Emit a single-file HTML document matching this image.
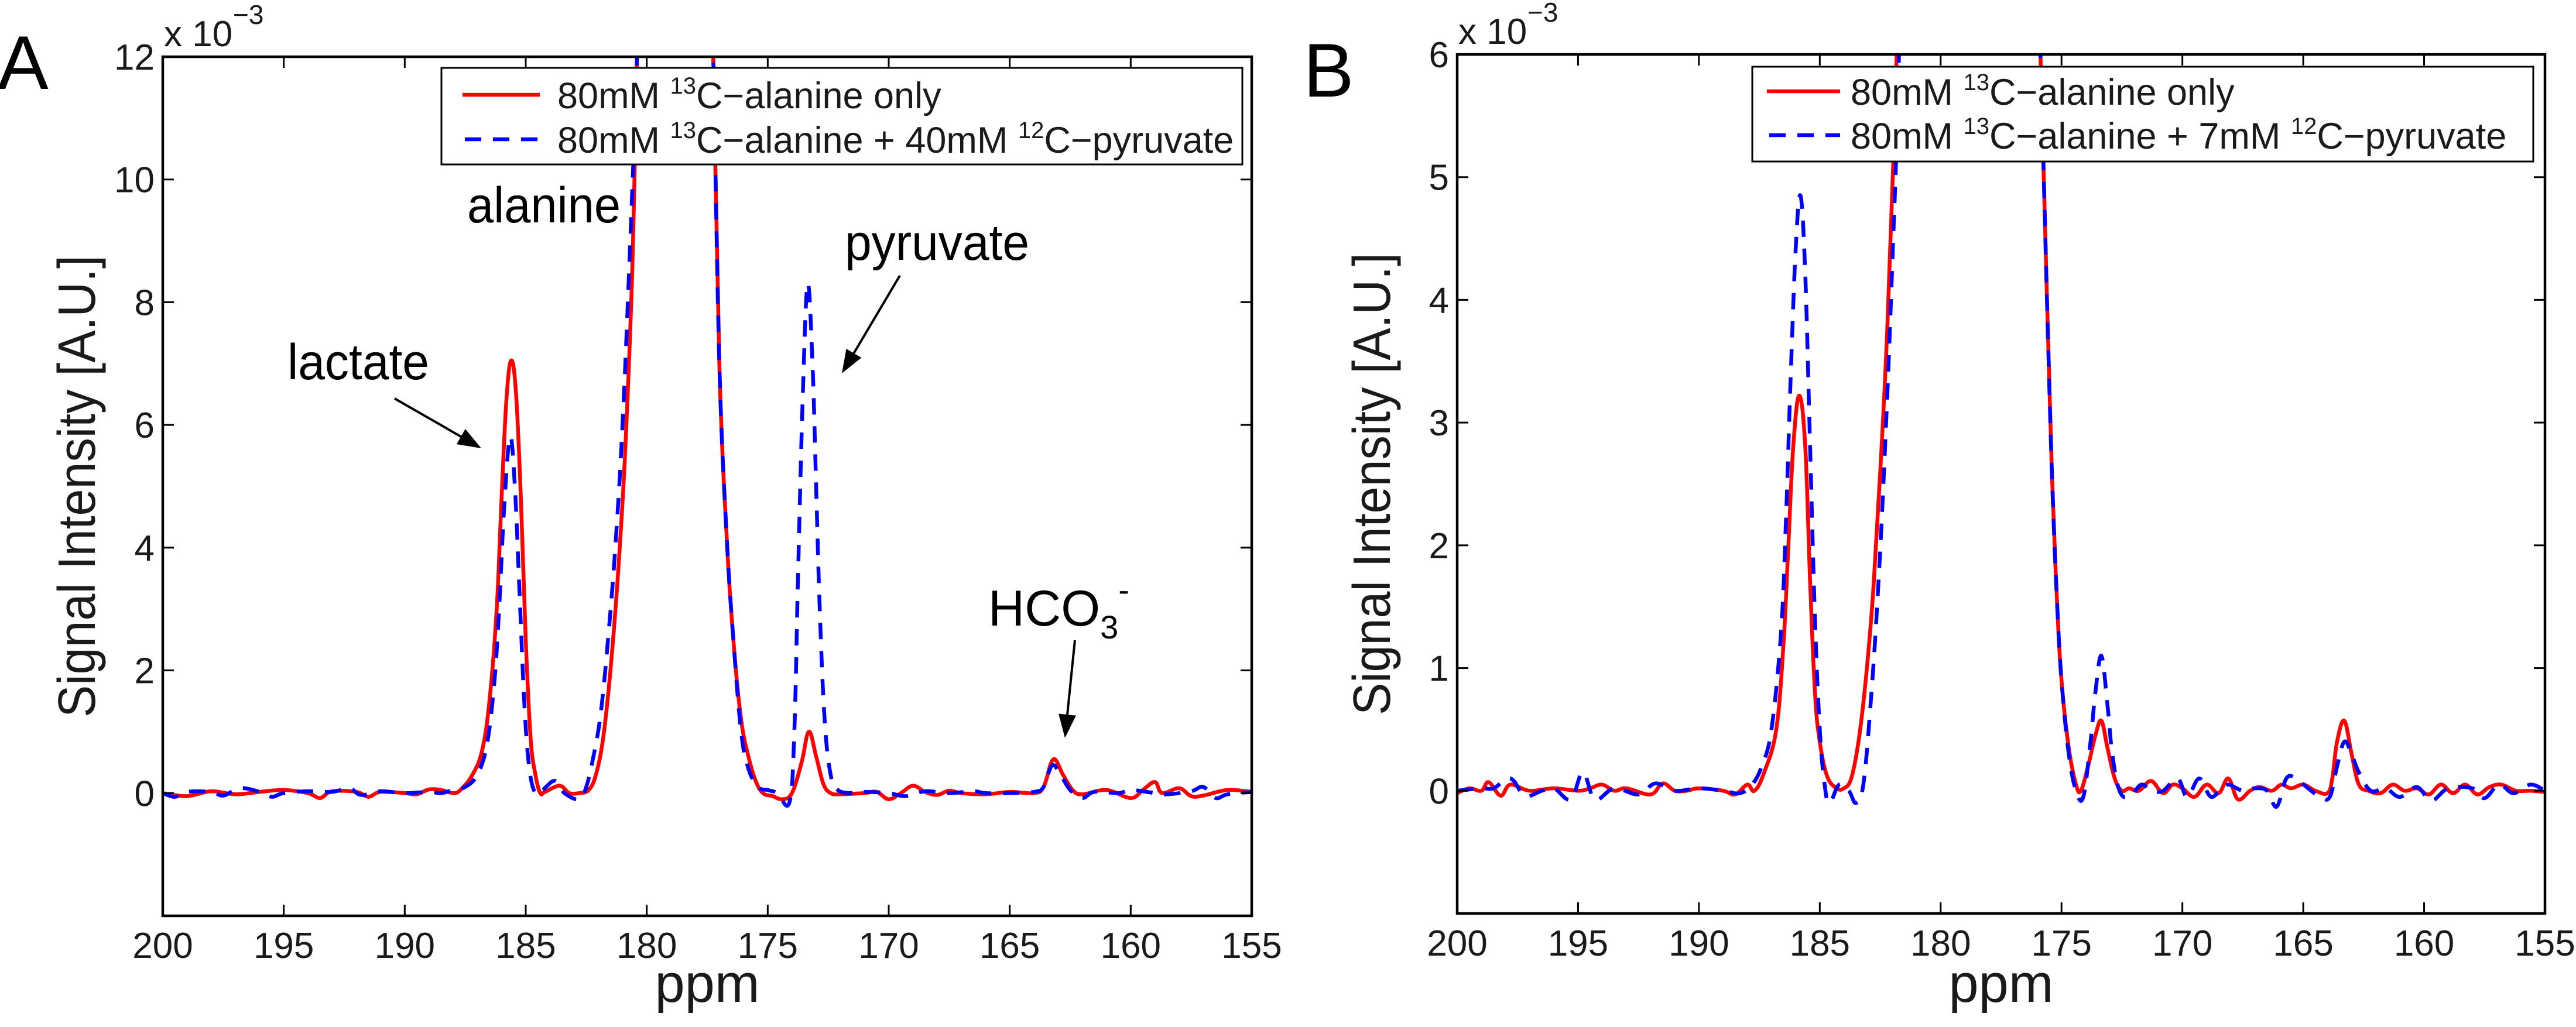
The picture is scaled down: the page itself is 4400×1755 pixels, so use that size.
<!DOCTYPE html>
<html><head><meta charset="utf-8"><style>
html,body{margin:0;padding:0;background:#fff;}
svg{display:block;font-family:"Liberation Sans",Arial,sans-serif;}
</style></head><body>
<svg id="fig" width="4400" height="1755" viewBox="0 0 4400 1755" xmlns="http://www.w3.org/2000/svg"></svg>
<script>
// ---- Panel A data (ppm, signal x1e-3) ----
const aRed = [[200,0.0],[199,-0.05],[198,0.03],[197,-0.02],[196,0.02],[195,0.05],[194,0.0],[193.5,-0.08],[193,0.03],[192,0.02],[191.5,-0.06],[191,0.02],[190,0.0],[189.5,-0.02],[189,0.06],[188.5,0.05],[188,0.0],[187.7,0.05],[187.2,0.3],[186.8,0.7],[186.5,1.5],[186.2,3.0],[186.0,4.8],[185.8,6.4],[185.6,7.05],[185.4,6.5],[185.2,4.8],[185.0,2.5],[184.8,0.9],[184.6,0.3],[184.4,0.0],[184.2,0.02],[183.6,0.12],[183.2,0.0],[182.8,0.0],[182.4,0.05],[182.1,0.3],[181.8,0.9],[181.5,2.0],[181.2,3.5],[180.9,5.5],[180.6,8.5],[180.4,12],[180.1,16],[179.5,24],[178,24],[177.5,16],[177.25,12],[177.0,7],[176.7,4.2],[176.4,2.4],[176.1,1.2],[175.8,0.6],[175.5,0.2],[175.2,0.0],[174.8,-0.05],[174.4,-0.1],[174.0,0.0],[173.6,0.5],[173.3,1.0],[173.0,0.6],[172.7,0.15],[172.4,0.0],[172,-0.02],[171,0.0],[170.5,0.02],[170,-0.1],[169.5,0.0],[169,0.12],[168.5,0.02],[168,-0.03],[167.5,0.04],[167,0.0],[166,-0.02],[165,0.02],[164,0.0],[163.6,0.1],[163.2,0.55],[162.8,0.3],[162.4,0.05],[162,-0.02],[161,0.05],[160,-0.08],[159.5,0.05],[159.0,0.18],[158.7,0.0],[158.0,0.08],[157.5,-0.05],[157,-0.04],[156,0.05],[155,0.02]];
const aBlue = [[200,0],[199.5,-0.06],[199,0.02],[198,0.02],[197.5,-0.04],[196.8,0.08],[196,0.02],[195.5,-0.06],[195,0.0],[194,0.03],[193,0.02],[192.3,0.08],[191.8,-0.03],[191,0.03],[190,0.0],[189,0.02],[188.5,0.0],[188,0.05],[187.5,0.1],[187.0,0.3],[186.6,0.8],[186.3,1.8],[186.1,3.0],[185.9,4.6],[185.65,5.8],[185.45,5.0],[185.25,3.2],[185.05,1.4],[184.85,0.4],[184.6,0.0],[184.3,0.05],[183.8,0.2],[183.4,0.0],[182.8,-0.1],[182.5,0.1],[182.2,0.6],[181.9,1.3],[181.6,2.5],[181.3,4.0],[181,6.0],[180.7,8.8],[180.4,12],[180.1,16],[179.5,24],[178,24],[177.5,16],[177.25,12],[177.0,7],[176.7,4.2],[176.4,2.4],[176.1,1.0],[175.8,0.4],[175.4,0.1],[175.0,0.05],[174.6,0.0],[174.1,-0.15],[173.9,1.0],[173.75,3.5],[173.55,6.5],[173.35,8.3],[173.15,7.0],[173.0,5.0],[172.85,3.0],[172.65,1.2],[172.4,0.3],[172.1,0.05],[171.5,0.0],[171,0.02],[170,0.0],[169.3,-0.05],[168.5,0.03],[167.5,0.0],[166.5,0.03],[166,0.0],[165,0.0],[164,0.02],[163.6,0.1],[163.25,0.45],[162.9,0.3],[162.5,0.05],[162,-0.08],[161.5,0.02],[160.5,0.0],[160,0.05],[159,0.0],[158.5,-0.02],[157.5,0.03],[157,0.1],[156.5,-0.08],[156,-0.02],[155,0.02]];
// ---- Panel B data ----
const bRed = [[200,-0.02],[199.5,0.02],[199,0.0],[198.7,0.07],[198.2,-0.04],[197.8,0.05],[197,0.0],[196,0.02],[195,0.0],[194.5,0.02],[194,0.05],[193.5,0.0],[193,0.02],[192,-0.03],[191.5,0.06],[191,0.0],[190.5,0.0],[190,0.02],[189,0.0],[188.5,-0.03],[188,0.05],[187.7,0.0],[187.3,0.15],[186.8,0.5],[186.5,1.2],[186.3,2.0],[186.1,2.8],[185.85,3.22],[185.6,2.8],[185.4,1.7],[185.2,0.8],[185.0,0.4],[184.7,0.12],[184.3,0.02],[184.0,0.02],[183.7,0.1],[183.4,0.4],[183.1,0.9],[182.8,1.6],[182.5,2.6],[182.2,3.8],[181.9,5.5],[181.7,7],[181.2,12],[180,14],[177,14],[176.3,10],[176.0,7],[175.8,5.5],[175.6,4.0],[175.4,2.6],[175.2,1.6],[175.0,0.9],[174.7,0.35],[174.4,0.05],[174.2,0.0],[173.9,0.2],[173.6,0.45],[173.35,0.57],[173.1,0.35],[172.8,0.1],[172.5,0.0],[172.2,0.02],[171.8,0.0],[171.3,0.08],[170.8,-0.02],[170.4,0.05],[170,0.02],[169.5,-0.05],[169,0.05],[168.5,-0.02],[168.1,0.1],[167.7,-0.07],[167.2,0.0],[166.8,0.03],[166.3,0.0],[165.9,0.05],[165.5,0.02],[165,0.05],[164.5,0.0],[164.0,-0.02],[163.8,0.1],[163.6,0.4],[163.3,0.57],[163.0,0.3],[162.7,0.05],[162.3,0.0],[161.8,-0.02],[161.3,0.05],[160.8,0.0],[160.3,0.02],[159.8,-0.03],[159.3,0.05],[158.8,-0.02],[158.3,0.05],[157.8,-0.03],[157.3,0.03],[156.8,0.05],[156.2,0.0],[155.6,0.0],[155,-0.01]];
const bBlue = [[200,0],[199,0.02],[198.5,0.02],[197.8,0.1],[197.2,-0.04],[196.5,0.0],[196,0.02],[195.3,-0.07],[194.8,0.15],[194.3,-0.07],[193.5,0.02],[192.5,-0.03],[191.8,0.06],[191,0.0],[190,0.02],[189,0.0],[188.3,-0.02],[187.8,0.05],[187.4,0.2],[187.0,0.5],[186.6,1.3],[186.4,2.2],[186.2,3.4],[186.0,4.4],[185.8,4.85],[185.6,4.2],[185.4,2.8],[185.2,1.4],[185.0,0.5],[184.8,0.05],[184.6,-0.1],[184.2,0.05],[183.8,0.0],[183.5,-0.1],[183.2,0.05],[182.9,0.7],[182.6,1.6],[182.3,2.8],[182.0,4.3],[181.7,6.2],[181.2,11],[180,14],[177,14],[176.3,10],[176.0,7],[175.8,5.5],[175.6,4.0],[175.4,2.6],[175.2,1.6],[175.0,0.9],[174.7,0.3],[174.4,0.0],[174.1,-0.05],[173.8,0.4],[173.6,0.8],[173.35,1.1],[173.1,0.7],[172.9,0.3],[172.6,0.0],[172.2,-0.05],[171.7,0.05],[171.3,0.0],[170.8,0.0],[170.2,0.1],[169.8,-0.05],[169.3,0.1],[168.8,-0.05],[168.2,0.05],[167.5,0.0],[167,0.02],[166.5,0.0],[166.1,-0.13],[165.7,0.1],[165.3,0.1],[164.8,0.02],[164.3,-0.05],[163.9,-0.05],[163.6,0.2],[163.3,0.4],[163.0,0.3],[162.7,0.15],[162.2,0.0],[161.6,0.02],[161,-0.05],[160.3,0.03],[159.7,-0.08],[159,0.02],[158,0.02],[157.5,-0.06],[156.9,0.05],[156.3,-0.02],[155.6,0.05],[155,0.0]];
const xTicks = [200,195,190,185,180,175,170,165,160,155];
const aYTicks = [-2,0,2,4,6,8,10,12];
const aYLabels = ["","0","2","4","6","8","10","12"];
const bYTicks = [-1,0,1,2,3,4,5,6];
const bYLabels = ["","0","1","2","3","4","5","6"];

const NS="http://www.w3.org/2000/svg";
const svg=document.getElementById('fig');
function mk(tag,attrs,parent){const e=document.createElementNS(NS,tag);for(const k in attrs)e.setAttribute(k,attrs[k]);(parent||svg).appendChild(e);return e;}

function smoothPath(pts){
  let d='M'+pts[0][0].toFixed(1)+','+pts[0][1].toFixed(1);
  for(let i=0;i<pts.length-1;i++){
    const p0=pts[Math.max(i-1,0)],p1=pts[i],p2=pts[i+1],p3=pts[Math.min(i+2,pts.length-1)];
    const t=0.18;
    const c1=[p1[0]+(p2[0]-p0[0])*t,p1[1]+(p2[1]-p0[1])*t];
    const c2=[p2[0]-(p3[0]-p1[0])*t,p2[1]-(p3[1]-p1[1])*t];
    d+='C'+c1[0].toFixed(1)+','+c1[1].toFixed(1)+' '+c2[0].toFixed(1)+','+c2[1].toFixed(1)+' '+p2[0].toFixed(1)+','+p2[1].toFixed(1);
  }
  return d;
}

function panel(cfg){
  const {L,R,T,B,ymin,ymax,yTicks,yLabels,red,blue,id,letter,letterX,letterY,legend}=cfg;
  const x=p=>L+(200-p)/45*(R-L);
  const y=v=>B-(v-ymin)/(ymax-ymin)*(B-T);
  const g=mk('g',{});
  
  
  const clip=mk('clipPath',{id:'clip'+id},g);
  mk('rect',{x:L,y:T,width:R-L,height:B-T},clip);
  const sr=mk('path',{d:smoothPath(red.map(p=>[x(p[0]),y(p[1])])),fill:'none',stroke:'#ff0000','stroke-width':6.5,'clip-path':'url(#clip'+id+')','stroke-linejoin':'round'},g);
  
  
  const sb=mk('path',{d:smoothPath(blue.map(p=>[x(p[0]),y(p[1])])),fill:'none',stroke:'#0000ff','stroke-width':6.5,'stroke-dasharray':'28 20','clip-path':'url(#clip'+id+')'},g);
  
  
  const box=mk('rect',{x:L,y:T,width:R-L,height:B-T,fill:'none',stroke:'#000','stroke-width':4.5},g);
  
  
  xTicks.forEach(p=>{
    const xx=x(p);
    mk('line',{x1:xx,x2:xx,y1:B,y2:B-19,stroke:'#000','stroke-width':3},g);
    mk('line',{x1:xx,x2:xx,y1:T,y2:T+19,stroke:'#000','stroke-width':3},g);
    const t=mk('text',{x:xx,y:B+72,'font-size':62,'text-anchor':'middle',fill:'#1a1a1a'},g);
    t.textContent=p;
    
    
  });
  yTicks.forEach((v,i)=>{
    const yy=y(v);
    mk('line',{x1:L,x2:L+19,y1:yy,y2:yy,stroke:'#000','stroke-width':3},g);
    mk('line',{x1:R,x2:R-19,y1:yy,y2:yy,stroke:'#000','stroke-width':3},g);
    if(yLabels[i]){
      const t=mk('text',{x:L-14,y:yy+22,'font-size':62,'text-anchor':'end',fill:'#1a1a1a'},g);
      t.textContent=yLabels[i];
      
      
    }
  });
  const ex=mk('text',{x:L+2,y:T-18,'font-size':62,fill:'#1a1a1a'},g);
  ex.textContent='x 10';
  
  
  const ex2=mk('text',{x:L+120,y:T-56,'font-size':46,fill:'#1a1a1a'},g);
  ex2.textContent='\u22123';
  
  
  const xl=mk('text',{x:(L+R)/2,y:1712,'font-size':92,'text-anchor':'middle',fill:'#1a1a1a'},g);
  xl.textContent='ppm';
  
  
  const cy=(T+B)/2;
  const yl=mk('text',{x:0,y:0,'font-size':90,'text-anchor':'middle',fill:'#1a1a1a',transform:'translate('+(cfg.ylabX)+','+cy+') rotate(-90)',textLength:790,lengthAdjust:'spacingAndGlyphs'},g);
  yl.textContent='Signal Intensity [A.U.]';
  
  
  const lt=mk('text',{x:letterX,y:letterY,'font-size':130,fill:'#000'},g);
  lt.textContent=letter;
  
  
  const lg=mk('g',{},g);
  
  
  mk('rect',{x:legend.l,y:legend.t,width:legend.r-legend.l,height:legend.b-legend.t,fill:'#fff',stroke:'#000','stroke-width':3},lg);
  mk('line',{x1:legend.l1,x2:legend.l2,y1:legend.y1,y2:legend.y1,stroke:'#ff0000','stroke-width':6.5},lg);
  mk('line',{x1:legend.l1+4,x2:legend.l2,y1:legend.y2,y2:legend.y2,stroke:'#0000ff','stroke-width':6.5,'stroke-dasharray':'28 20'},lg);
  const t1=mk('text',{x:legend.tx,y:legend.y1+23,'font-size':63,fill:'#1a1a1a'},lg);
  t1.innerHTML='80mM <tspan font-size="40" dy="-25">13</tspan><tspan dy="25">C\u2212alanine only</tspan>';
  
  
  const t2=mk('text',{x:legend.tx,y:legend.y2+23,'font-size':63,fill:'#1a1a1a'},lg);
  t2.innerHTML='80mM <tspan font-size="40" dy="-25">13</tspan><tspan dy="25">C\u2212alanine + '+legend.conc+' </tspan><tspan font-size="40" dy="-25">12</tspan><tspan dy="25">C\u2212pyruvate</tspan>';
  
  
  return {x,y,g};
}

const A=panel({id:'a',L:278,R:2138,T:97,B:1565,ymin:-2,ymax:12,yTicks:aYTicks,yLabels:aYLabels,red:aRed,blue:aBlue,letter:'A',letterX:-4,letterY:152,ylabX:162,
  legend:{l:754,r:2122,t:116,b:281,l1:790,l2:922,y1:162,y2:238,tx:952,conc:'40mM'}});
const Bp=panel({id:'b',L:2489,R:4347,T:93,B:1561,ymin:-1,ymax:6,yTicks:bYTicks,yLabels:bYLabels,red:bRed,blue:bBlue,letter:'B',letterX:2226,letterY:165,ylabX:2374,
  legend:{l:2993,r:4327,t:114,b:276,l1:3018,l2:3143,y1:156,y2:231,tx:3161,conc:'7mM'}});

function ann(txt,xx,yy,w,name){const t=mk('text',{x:xx,y:yy,'font-size':86,fill:'#000',textLength:w,lengthAdjust:'spacingAndGlyphs'});t.textContent=txt;return t;}
ann('lactate',491,648,242,'label-lactate');
ann('alanine',798,380,262,'label-alanine');
ann('pyruvate',1443,444,315,'label-pyruvate');
const hc=mk('text',{x:1688,y:1069,'font-size':86,fill:'#000'});
hc.innerHTML='HCO<tspan font-size="56" dy="22">3</tspan><tspan font-size="56" dy="-64">-</tspan>';


function arrow(x1,y1,x2,y2,name){
  const g=mk('g',{});
  
  
  const dx=x2-x1,dy=y2-y1,len=Math.hypot(dx,dy),ux=dx/len,uy=dy/len;
  const hl=40,hw=15;
  const bx=x2-ux*hl,by=y2-uy*hl;
  mk('line',{x1:x1,y1:y1,x2:bx,y2:by,stroke:'#000','stroke-width':4},g);
  mk('polygon',{points:x2+','+y2+' '+(bx-uy*hw)+','+(by+ux*hw)+' '+(bx+uy*hw)+','+(by-ux*hw),fill:'#000'},g);
}
arrow(674,681,822,766,'arrow-lactate');
arrow(1537,471,1438,638,'arrow-pyruvate');
arrow(1836,1094,1819,1261,'arrow-bicarbonate');
</script>
</body></html>
